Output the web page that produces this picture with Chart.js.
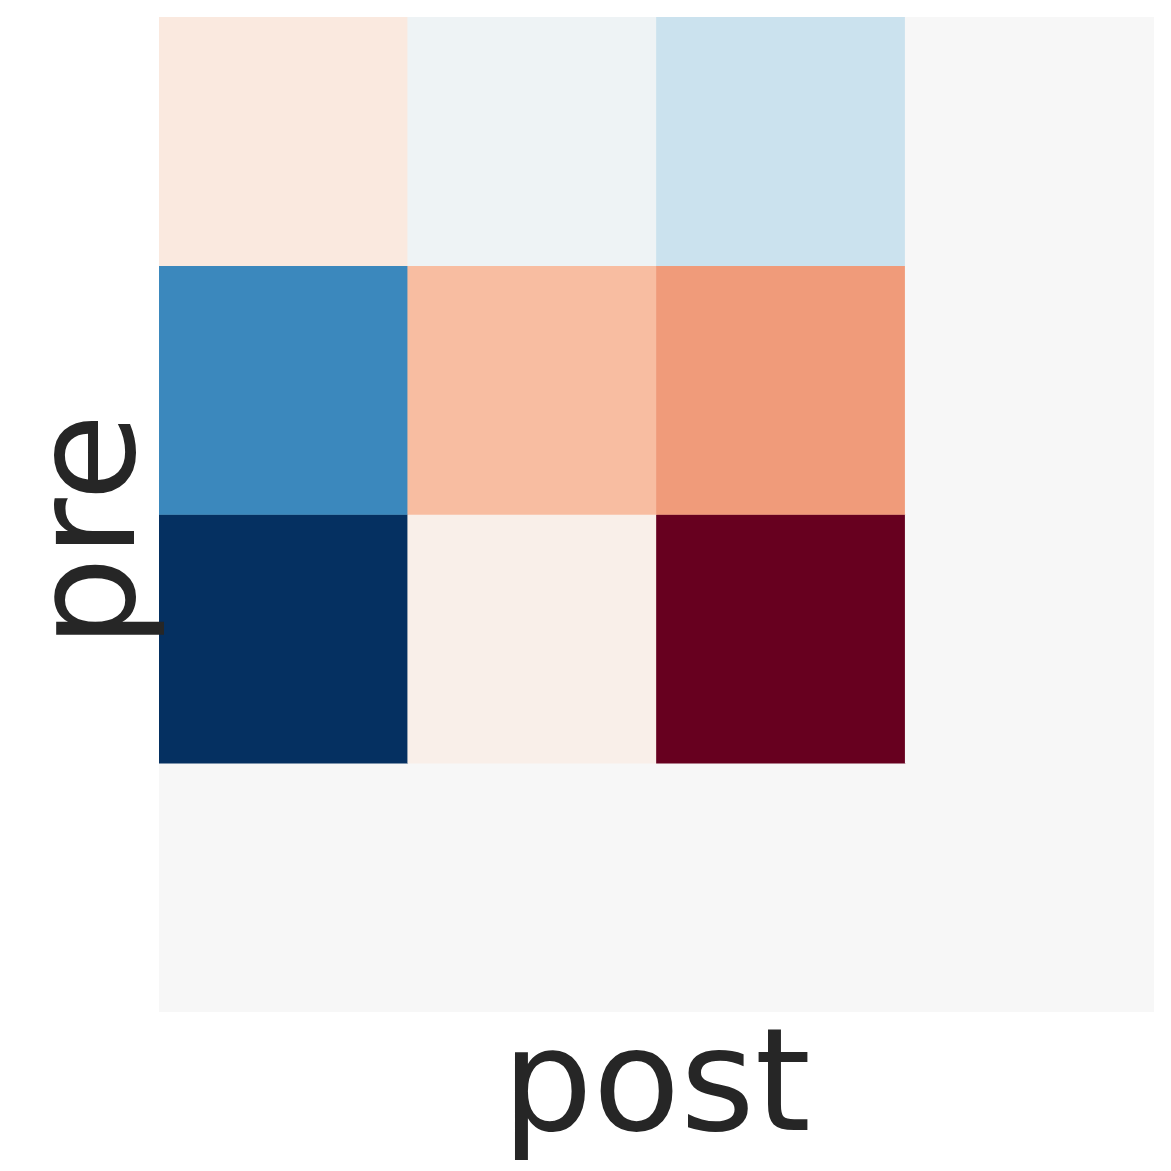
<!DOCTYPE html>
<html><head><meta charset="utf-8">
<script src="https://cdn.jsdelivr.net/npm/chart.js@4.4.0/dist/chart.umd.min.js"></script>
<style>html,body{margin:0;padding:0;background:#fff}#wrap{width:1171px;height:1171px}</style>
</head><body><div id="wrap"><canvas id="c" width="1171" height="1171"></canvas></div>
<script>
// Data
const postCategories = ['0', '1', '2', '3'];
const preCategories = ['0', '1', '2', '3'];
const row0 = [0.10, -0.05, -0.22, 0];
const row1 = [-0.65, 0.31, 0.43, 0];
const row2 = [-1.00, 0.06, 1.00, 0];
const row3 = [0, 0, 0, 0];
const rows = [row0, row1, row2, row3];
const xTitle = 'post';
const yTitle = 'pre';
const vmin = -1, vmax = 1;

// RdBu_r colormap
const anchors = ['#053061','#2166ac','#4393c3','#92c5de','#d1e5f0','#f7f7f7','#fddbc7','#f4a582','#d6604d','#b2182b','#67001f']
  .map(h => [parseInt(h.slice(1,3),16), parseInt(h.slice(3,5),16), parseInt(h.slice(5,7),16)]);
function cmap(v) {
  let t = (v - vmin) / (vmax - vmin);
  t = Math.max(0, Math.min(1, t));
  const p = t * (anchors.length - 1);
  const i = Math.min(Math.floor(p), anchors.length - 2);
  const f = p - i;
  const a = anchors[i], b = anchors[i+1];
  const c = a.map((x, k) => Math.round(x + (b[k] - x) * f));
  return `rgb(${c[0]},${c[1]},${c[2]})`;
}

const datasets = rows.map((row, i) => ({
  label: preCategories[i],
  data: row.map(() => [i, i + 1]),
  backgroundColor: row.map(v => cmap(v)),
  borderWidth: 0,
  borderSkipped: false,
  grouped: false,
  categoryPercentage: 1.0,
  barPercentage: 1.0
}));

const titlesPlugin = {
  id: 'titles',
  afterDraw(chart) {
    const { ctx, chartArea } = chart;
    ctx.save();
    ctx.fillStyle = '#262626';
    ctx.font = '143px "DejaVu Sans"';
    ctx.textAlign = 'center';
    ctx.textBaseline = 'alphabetic';
    ctx.fillText(xTitle, (chartArea.left + chartArea.right) / 2, chartArea.bottom + 118);
    ctx.translate(chartArea.left - 25, (chartArea.top + chartArea.bottom) / 2 + 16);
    ctx.rotate(-Math.PI / 2);
    ctx.fillText(yTitle, 0, 0);
    ctx.restore();
  }
};

new Chart(document.getElementById('c'), {
  type: 'bar',
  data: { labels: postCategories, datasets },
  options: {
    responsive: false,
    animation: false,
    devicePixelRatio: 1,
    layout: { padding: { left: 159, right: 17, top: 17, bottom: 159 } },
    plugins: { legend: { display: false }, tooltip: { enabled: false } },
    scales: {
      x: { type: 'category', display: false, offset: true },
      y: { type: 'linear', display: false, min: 0, max: 4, reverse: true }
    }
  },
  plugins: [titlesPlugin]
});
</script>
</body></html>
